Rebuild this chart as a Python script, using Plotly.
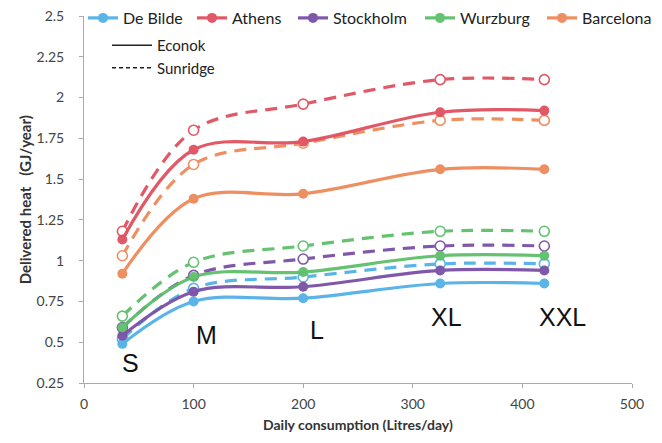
import plotly.graph_objects as go

# ---- data ----
consumption = [35, 100, 200, 325, 420]
cities = ["De Bilde", "Athens", "Stockholm", "Wurzburg", "Barcelona"]
colors = ["#52b1e6", "#e0505e", "#7a50a6", "#5cbf6a", "#ee8a5a"]

econok_debilde = [0.49, 0.75, 0.77, 0.86, 0.86]
econok_athens = [1.13, 1.68, 1.73, 1.91, 1.92]
econok_stockholm = [0.54, 0.81, 0.84, 0.94, 0.94]
econok_wurzburg = [0.59, 0.90, 0.93, 1.03, 1.03]
econok_barcelona = [0.92, 1.38, 1.41, 1.56, 1.56]

sunridge_debilde = [0.52, 0.83, 0.90, 0.98, 0.98]
sunridge_athens = [1.18, 1.80, 1.96, 2.11, 2.11]
sunridge_stockholm = [0.59, 0.91, 1.01, 1.09, 1.09]
sunridge_wurzburg = [0.66, 0.99, 1.09, 1.18, 1.18]
sunridge_barcelona = [1.03, 1.59, 1.72, 1.86, 1.86]

size_labels = ["S", "M", "L", "XL", "XXL"]
size_label_x = [42, 112, 213, 331, 437]
size_label_y = [0.373, 0.544, 0.575, 0.655, 0.655]

y_tickvals = [0.25, 0.5, 0.75, 1, 1.25, 1.5, 1.75, 2, 2.25, 2.5]
y_ticktext = ["0.25", "0.5", "0.75", "1", "1.25", "1.5", "1.75", "2", "2.25", "2.5"]
x_tickvals = [0, 100, 200, 300, 400, 500]

econok = [econok_debilde, econok_athens, econok_stockholm, econok_wurzburg, econok_barcelona]
sunridge = [sunridge_debilde, sunridge_athens, sunridge_stockholm, sunridge_wurzburg, sunridge_barcelona]

FONT = "Lato"
# one legend box per city so the top row matches the reference spacing
city_legends = ["legend", "legend3", "legend4", "legend5", "legend6"]
city_legend_px = [83, 192, 293, 420, 542]

fig = go.Figure()

# dashed (Sunridge) first so solid lines are on top
for name, col, vals in zip(cities, colors, sunridge):
    fig.add_trace(go.Scatter(
        x=consumption, y=vals, mode="lines+markers", name=name + " Sunridge",
        line=dict(color=col, width=3.2, dash="12px,8px", shape="spline"),
        marker=dict(symbol="circle", size=10, color="white", line=dict(color=col, width=1.6)),
        showlegend=False, opacity=0.95,
    ))

for name, col, vals, lg in zip(cities, colors, econok, city_legends):
    fig.add_trace(go.Scatter(
        x=consumption, y=vals, mode="lines+markers", name=name,
        line=dict(color=col, width=3.2, shape="spline"),
        marker=dict(symbol="circle", size=10, color=col),
        legend=lg, opacity=0.95,
    ))

# line-style legend
fig.add_trace(go.Scatter(x=[None], y=[None], mode="lines", name="Econok",
                         line=dict(color="#222222", width=1.5), legend="legend2"))
fig.add_trace(go.Scatter(x=[None], y=[None], mode="lines", name="Sunridge",
                         line=dict(color="#222222", width=1.5, dash="4px,3px"), legend="legend2"))

for t, xx, yy in zip(size_labels, size_label_x, size_label_y):
    fig.add_annotation(x=xx, y=yy, text=t, showarrow=False,
                       font=dict(family="Liberation Sans, Arial", size=25, color="#111111"))

# axis titles
fig.add_annotation(xref="paper", yref="paper", x=-0.128, y=0.5, textangle=-90,
                   text="<b>Delivered heat\u00a0\u00a0\u00a0(GJ/year)</b>", showarrow=False,
                   font=dict(family=FONT, size=15, color="#333333"))
fig.add_annotation(xref="paper", yref="paper", x=0.5, y=-0.114, yanchor="middle",
                   text="<b>Daily consumption (Litres/day)</b>", showarrow=False,
                   font=dict(family=FONT, size=14, color="#333333"))

legend_boxes = {}
for lg, px in zip(city_legends, city_legend_px):
    legend_boxes[lg] = dict(orientation="h", xref="container", x=px / 662, xanchor="left",
                            yref="container", y=1 - 1 / 443, yanchor="top",
                            font=dict(family=FONT, size=16, color="#222222"),
                            bgcolor="rgba(0,0,0,0)", itemwidth=30, tracegroupgap=0)

fig.update_layout(
    width=662, height=443,
    margin=dict(l=84, r=30, t=16, b=60, autoexpand=False),
    paper_bgcolor="white", plot_bgcolor="white",
    font=dict(family=FONT, color="#333333"),
    legend2=dict(orientation="v", xref="container", x=107 / 662, xanchor="left",
                 yref="container", y=1 - 29 / 443, yanchor="top",
                 font=dict(family=FONT, size=15, color="#222222"),
                 bgcolor="rgba(0,0,0,0)", itemwidth=40, tracegroupgap=0),
    **legend_boxes,
)

fig.update_xaxes(range=[0, 500], tickvals=x_tickvals, showgrid=False, zeroline=False,
                 showline=True, linecolor="#aaaaaa", linewidth=1,
                 ticks="outside", ticklen=4, tickcolor="#aaaaaa", ticklabelstandoff=4,
                 tickfont=dict(family=FONT, size=14, color="#444444"))
fig.update_yaxes(range=[0.25, 2.5], tickvals=y_tickvals, ticktext=y_ticktext,
                 showgrid=False, zeroline=False,
                 showline=True, linecolor="#aaaaaa", linewidth=1,
                 ticks="outside", ticklen=4, tickcolor="#aaaaaa", ticklabelstandoff=12,
                 tickfont=dict(family=FONT, size=14, color="#444444"))

fig.write_html("out.html")
